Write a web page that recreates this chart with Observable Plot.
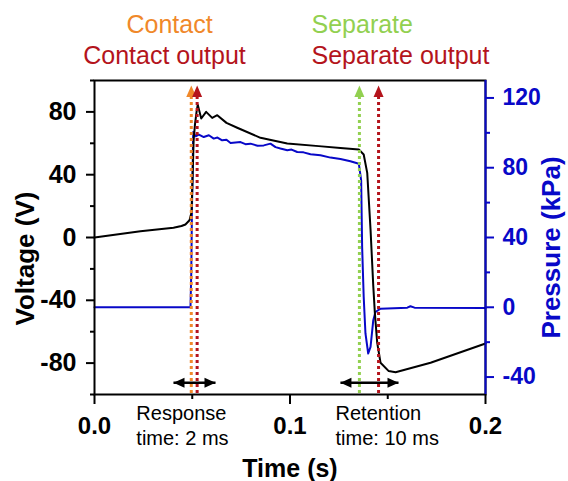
<!DOCTYPE html>
<html><head><meta charset="utf-8">
<script src="https://cdn.jsdelivr.net/npm/d3@7"></script>
<script src="https://cdn.jsdelivr.net/npm/@observablehq/plot@0.6"></script>
<style>body{margin:0;background:#fff;}</style>
</head><body><div id="chart"></div>
<script>
// Voltage (V) vs time (s)
const timeV = [0, 0.0235, 0.0404, 0.0445, 0.0465, 0.0486, 0.0496, 0.0501, 0.0507, 0.0514, 0.0522, 0.0528, 0.0546, 0.0571, 0.0602, 0.0628, 0.0675, 0.073, 0.0849, 0.0986, 0.1147, 0.1258, 0.1352, 0.1377, 0.1395, 0.1412, 0.1426, 0.1434, 0.1446, 0.1463, 0.1505, 0.154, 0.1719, 0.2];
const voltage = [0, 4, 6.2, 7.3, 8.3, 11, 16, 35, 62, 72, 80, 84.5, 75.8, 80, 76.2, 77.9, 73, 69.9, 63.5, 59.9, 58.2, 57, 56, 52.9, 41.2, 5, -31, -48, -67, -79.8, -85.1, -85.8, -79.8, -67.5];
// Pressure (kPa) vs time (s)
const timeP = [0, 0.0491, 0.0495, 0.0499, 0.0505, 0.0517, 0.0534, 0.0559, 0.0585, 0.061, 0.0629, 0.0653, 0.0675, 0.0696, 0.0747, 0.0772, 0.0798, 0.0834, 0.0866, 0.09, 0.0926, 0.0951, 0.0986, 0.1008, 0.1037, 0.1069, 0.1105, 0.1156, 0.1207, 0.1258, 0.1309, 0.1352, 0.1364, 0.1369, 0.1377, 0.1386, 0.14, 0.1412, 0.1426, 0.1437, 0.1463, 0.16, 0.1616, 0.1637, 0.2];
const pressure = [0, 0, 20, 60, 100.5, 98, 99, 97.6, 98.6, 96.7, 97.3, 95.7, 96, 94.2, 94.7, 93.5, 93.8, 92.6, 92.8, 93.8, 91.8, 91, 90, 90.4, 89, 88.8, 87.7, 87.1, 85.8, 85, 83.7, 82.3, 72.8, 34.6, 5.9, -15, -26.5, -22.7, -7.4, -2.7, -0.8, -0.2, 0.6, -0.2, -0.4];

const xTicks = [0, 0.1, 0.2];
const xMinor = [0.05, 0.15];
const vTicks = [-80, -40, 0, 40, 80];
const vMinor = [-100, -60, -20, 20, 60, 100];
const pTicks = [-40, 0, 40, 80, 120];
const pMinor = [-20, 20, 60, 100];
const vDomain = [-100, 100];
const pDomain = [-50, 130];

const eventNames = ["Contact", "Contact output", "Separate", "Separate output"];
const eventTimes = [0.0495, 0.0525, 0.1355, 0.1453];
const spanStart = [0.0404, 0.1258];
const spanEnd = [0.0619, 0.1555];
const spanText = ["Response\ntime: 2 ms", "Retention\ntime: 10 ms"];

const BLUE = "#0808c8", ORANGE = "#f0882a", GREEN = "#92d050", RED = "#b4141c";
const eventColors = [ORANGE, RED, GREEN, RED];
const FONT = "'Liberation Sans', Arial, Helvetica, sans-serif";

const toV = p => vDomain[0] + (p - pDomain[0]) * (vDomain[1] - vDomain[0]) / (pDomain[1] - pDomain[0]);
const fromV = v => pDomain[0] + (v - vDomain[0]) * (pDomain[1] - pDomain[0]) / (vDomain[1] - vDomain[0]);

const vData = timeV.map((t, i) => ({t, v: voltage[i]}));
const pData = timeP.map((t, i) => ({t, v: toV(pressure[i])}));

const upTri = {draw(ctx, size) { const r = Math.sqrt(size / Math.PI); ctx.moveTo(0, 0); ctx.lineTo(r, 2.3 * r); ctx.lineTo(-r, 2.3 * r); ctx.closePath(); }};
const leftTri = {draw(ctx, size) { const r = Math.sqrt(size / Math.PI); ctx.moveTo(0, 0); ctx.lineTo(2.2 * r, -r); ctx.lineTo(2.2 * r, r); ctx.closePath(); }};
const rightTri = {draw(ctx, size) { const r = Math.sqrt(size / Math.PI); ctx.moveTo(0, 0); ctx.lineTo(-2.2 * r, -r); ctx.lineTo(-2.2 * r, r); ctx.closePath(); }};

const arrowV = -92.5;
const ev = d3.range(eventNames.length);
const sp = d3.range(spanText.length);

const chart = Plot.plot({
  width: 568, height: 481,
  marginTop: 80, marginBottom: 87, marginLeft: 94, marginRight: 83,
  style: {fontFamily: FONT, background: "#fff", overflow: "visible"},
  x: {domain: [0, 0.2], axis: null},
  y: {domain: vDomain, axis: null},
  marks: [
    // curves
    Plot.line(pData, {x: "t", y: "v", stroke: BLUE, strokeWidth: 2}),
    Plot.line(vData, {x: "t", y: "v", stroke: "#000", strokeWidth: 2}),
    // event dotted lines with arrowheads
    Plot.ruleX(ev, {x: i => eventTimes[i], stroke: i => eventColors[i], strokeWidth: 3, strokeDasharray: "3,3", insetTop: 16}),
    Plot.dot(ev, {x: i => eventTimes[i], frameAnchor: "top", dy: 5, symbol: upTri, r: 5, fill: i => eventColors[i], stroke: "none"}),
    // frame / axis lines
    Plot.frame({stroke: "#000", strokeWidth: 2}),
    Plot.ruleX([0.2], {stroke: BLUE, strokeWidth: 2}),
    // x axis
    Plot.axisX(xTicks, {tickSize: 10, tickPadding: 12, tickFormat: d3.format(".1f"), fontSize: 24, fontWeight: "bold", stroke: "#000", strokeWidth: 2, fill: "#000", label: null}),
    Plot.axisX(xMinor, {tickSize: 5, tickFormat: () => "", stroke: "#000", strokeWidth: 2, label: null}),
    // left axis
    Plot.axisY(vTicks, {anchor: "left", tickSize: 8, tickPadding: 10, tickFormat: d => String(d), fontSize: 25, fontWeight: "bold", stroke: "#000", strokeWidth: 2, fill: "#000", label: null}),
    Plot.axisY(vMinor, {anchor: "left", tickSize: 4, tickFormat: () => "", stroke: "#000", strokeWidth: 2, label: null}),
    // right axis (pressure)
    Plot.axisY(pTicks.map(toV), {anchor: "right", tickSize: 8, tickPadding: 9, tickFormat: v => String(Math.round(fromV(v))), fontSize: 23, fontWeight: "bold", stroke: BLUE, strokeWidth: 2, fill: BLUE, label: null}),
    Plot.axisY(pMinor.map(toV), {anchor: "right", tickSize: 4, tickFormat: () => "", stroke: BLUE, strokeWidth: 2, label: null}),
    // double arrows
    Plot.link(sp, {x1: i => spanStart[i], x2: i => spanEnd[i], y1: () => arrowV, y2: () => arrowV, stroke: "#000", strokeWidth: 2.5}),
    Plot.dot(sp, {x: i => spanStart[i], y: () => arrowV, symbol: leftTri, r: 5, fill: "#000", stroke: "none"}),
    Plot.dot(sp, {x: i => spanEnd[i], y: () => arrowV, symbol: rightTri, r: 5, fill: "#000", stroke: "none"}),
    // span annotations
    Plot.text(sp, {x: i => spanStart[i] - 0.019 + i * 0.0165, frameAnchor: "bottom", text: i => spanText[i], textAnchor: "start", lineAnchor: "top", dy: 8, fontSize: 20, lineHeight: 1.25, fill: "#000"}),
    // top labels
    Plot.text([eventNames[0]], {frameAnchor: "top-left", dx: 75, dy: -48, text: d => d, textAnchor: "middle", lineAnchor: "bottom", fontSize: 25, fill: ORANGE}),
    Plot.text([eventNames[1]], {frameAnchor: "top-left", dx: 70, dy: -17, text: d => d, textAnchor: "middle", lineAnchor: "bottom", fontSize: 25, fill: RED}),
    Plot.text([eventNames[2]], {frameAnchor: "top-left", dx: 217, dy: -48, text: d => d, textAnchor: "start", lineAnchor: "bottom", fontSize: 25, fill: GREEN}),
    Plot.text([eventNames[3]], {frameAnchor: "top-left", dx: 217, dy: -17, text: d => d, textAnchor: "start", lineAnchor: "bottom", fontSize: 25, fill: RED}),
    // axis titles
    Plot.text(["Time (s)"], {frameAnchor: "bottom", dy: 82, text: d => d, lineAnchor: "bottom", fontSize: 25, fontWeight: "bold", fill: "#000"}),
    Plot.text(["Voltage (V)"], {frameAnchor: "left", dx: -69, dy: 21, rotate: -90, textAnchor: "middle", text: d => d, fontSize: 26, fontWeight: "bold", fill: "#000"}),
    Plot.text(["Pressure (kPa)"], {frameAnchor: "right", dx: 66, dy: 10, rotate: -90, textAnchor: "middle", text: d => d, fontSize: 26, fontWeight: "bold", fill: BLUE})
  ]
});
document.getElementById("chart").appendChild(chart);
</script>
</body></html>
